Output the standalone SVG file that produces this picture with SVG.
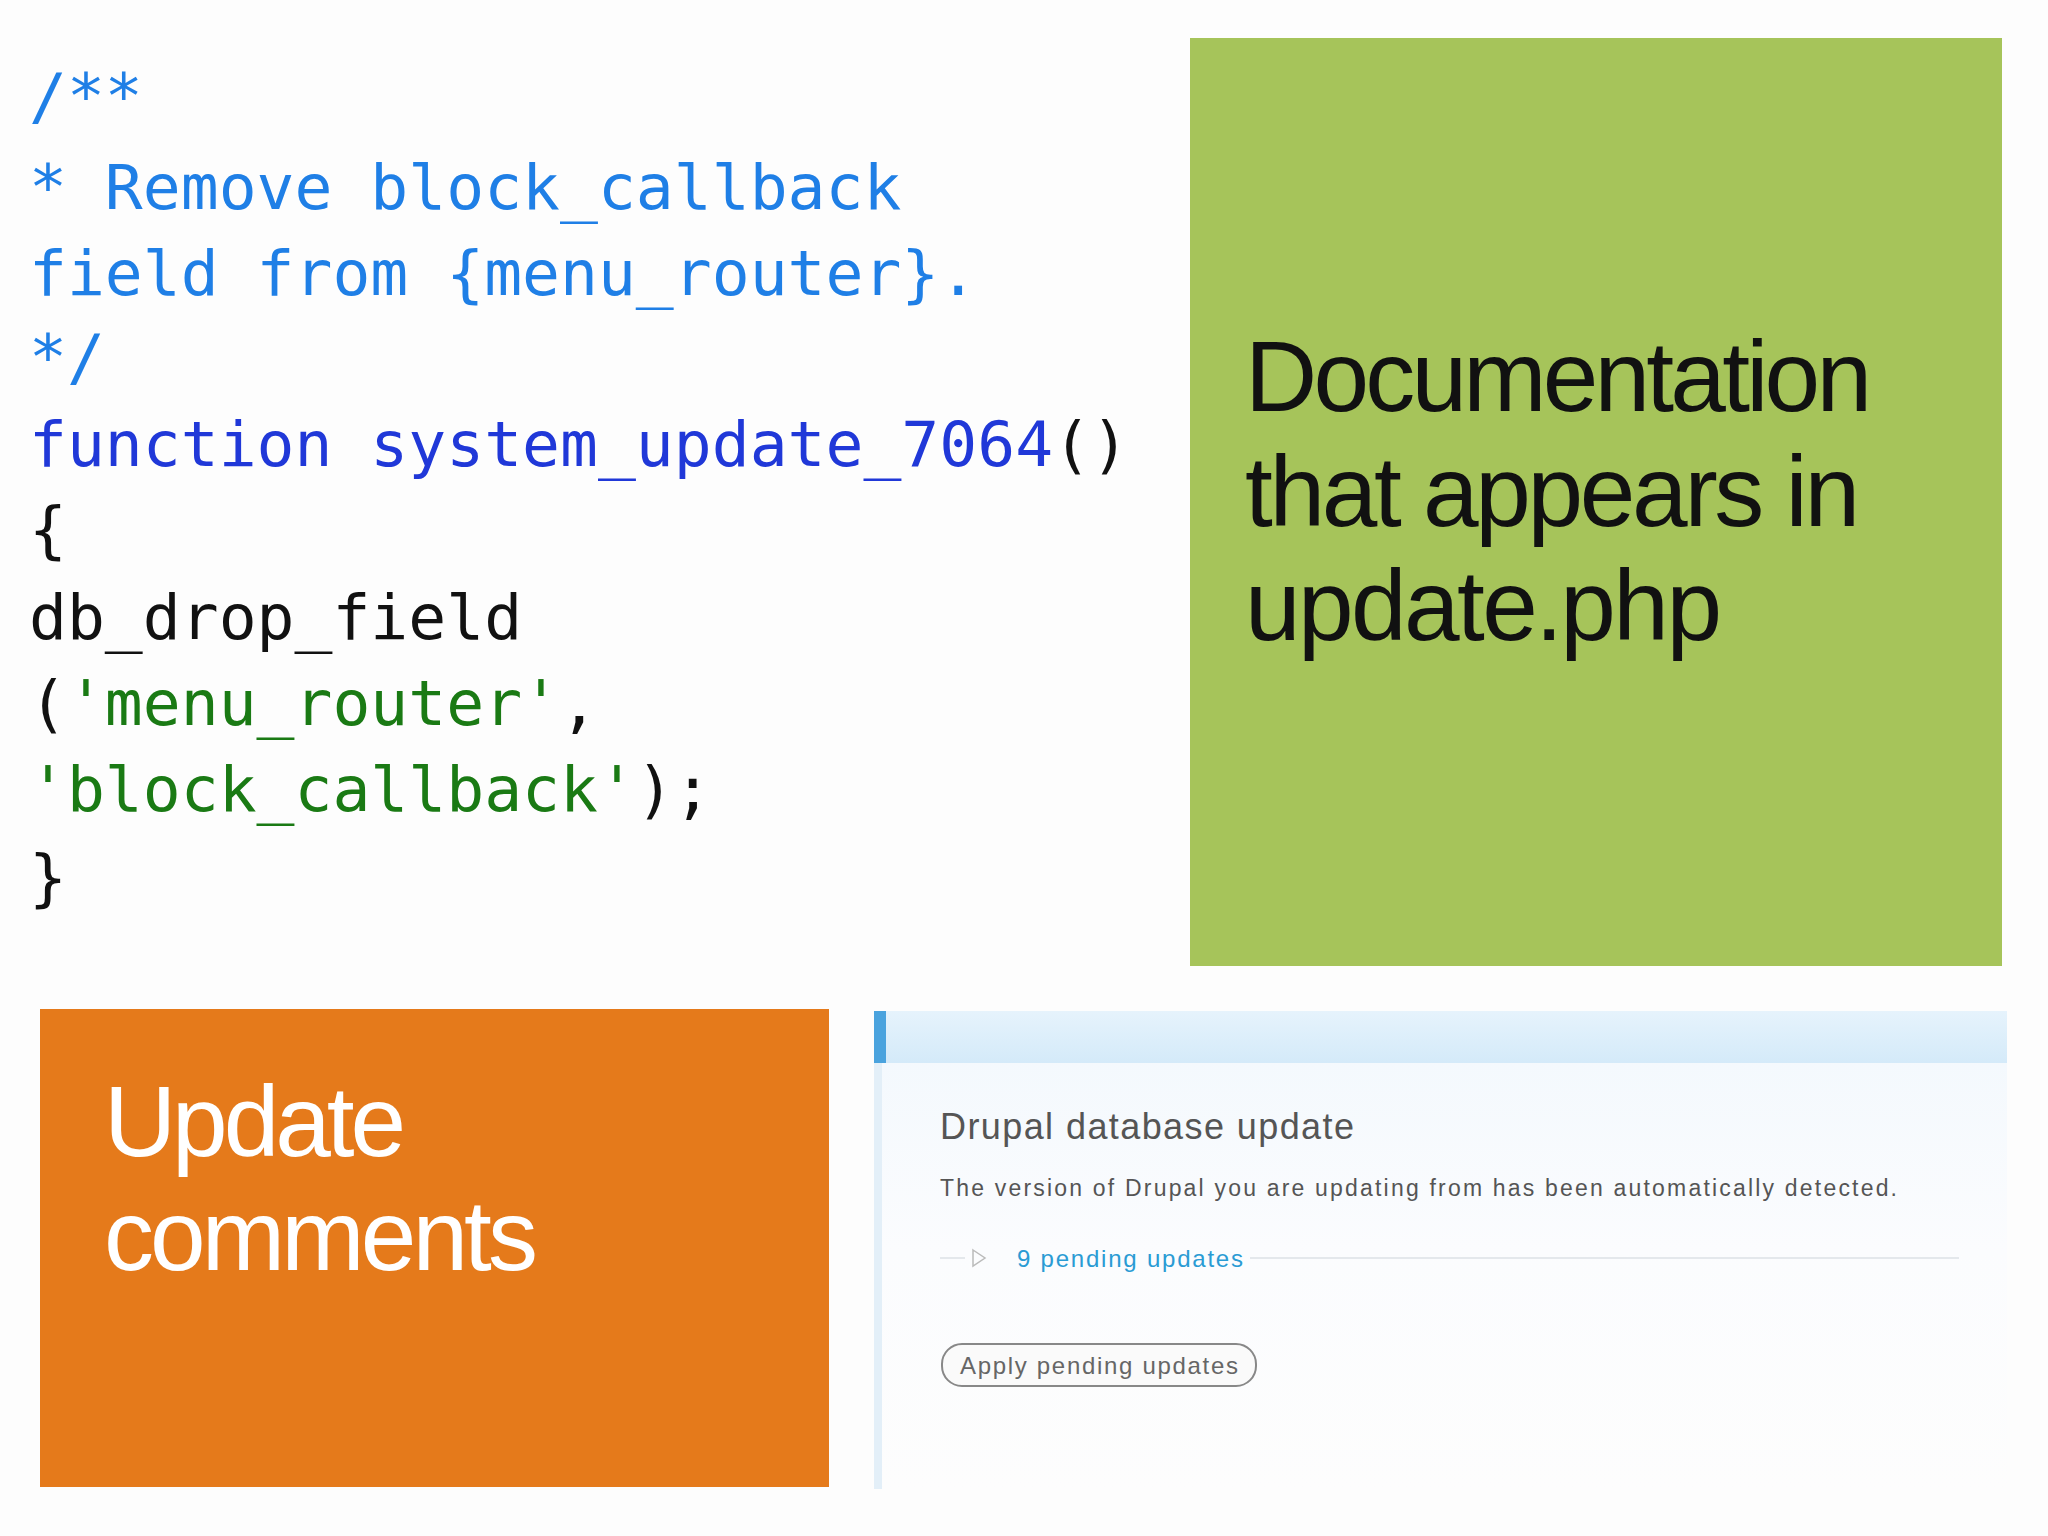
<svg xmlns="http://www.w3.org/2000/svg" width="2048" height="1536" viewBox="0 0 2048 1536">
<defs>
<style>
.code{font-family:"DejaVu Sans Mono","Liberation Mono",monospace;font-size:63px;}
.cm{fill:#1f7fe6}.kw{fill:#2038d8}.st{fill:#1a7a14}.pl{fill:#111}
.big{font-family:"Liberation Sans",Arial,sans-serif;font-size:100px;font-weight:300;}
.ui{font-family:"Liberation Sans",Arial,sans-serif;}
</style>
<linearGradient id="hdr" x1="0" y1="0" x2="0" y2="1"><stop offset="0" stop-color="#e6f3fc"/><stop offset="1" stop-color="#d4eaf9"/></linearGradient>
<linearGradient id="body" x1="0" y1="0" x2="0" y2="1"><stop offset="0" stop-color="#f2f8fd"/><stop offset="0.5" stop-color="#fbfcfe"/><stop offset="1" stop-color="#fdfdfd"/></linearGradient>
</defs>
<rect width="2048" height="1536" fill="#fdfdfd"/>
<g id="code" class="code" xml:space="preserve">
<text x="29" y="118" class="cm">/**</text>
<text x="29" y="209" class="cm"> * Remove block_callback</text>
<text x="29" y="295" class="cm">field from {menu_router}.</text>
<text x="29" y="379" class="cm"> */</text>
<text x="29" y="466"><tspan class="kw">function system_update_7064</tspan><tspan class="pl">()</tspan></text>
<text x="29" y="551" class="pl">{</text>
<text x="29" y="639" class="pl">  db_drop_field</text>
<text x="29" y="725"><tspan class="pl">(</tspan><tspan class="st">'menu_router'</tspan><tspan class="pl">,</tspan></text>
<text x="29" y="811"><tspan class="st">'block_callback'</tspan><tspan class="pl">);</tspan></text>
<text x="29" y="899" class="pl">}</text>
</g>
<g id="doc">
<rect x="1190" y="38" width="812" height="928" fill="#a6c45a"/>
<text class="big" fill="#111"><tspan x="1245" y="411" textLength="627">Documentation</tspan><tspan x="1245" y="526" textLength="615">that appears in</tspan><tspan x="1245" y="640" textLength="477">update.php</tspan></text>
</g>
<g id="comments">
<rect x="40" y="1009" width="789" height="478" fill="#e57a1b"/>
<text class="big" fill="#fff"><tspan x="104" y="1156" textLength="302">Update</tspan><tspan x="104" y="1270" textLength="434">comments</tspan></text>
</g>
<g id="drupal">
<rect x="874" y="1011" width="1133" height="478" fill="url(#body)"/>
<rect x="874" y="1011" width="1133" height="52" fill="url(#hdr)"/>
<rect x="874" y="1011" width="12" height="52" fill="#4aa3de"/>
<rect x="874" y="1063" width="8" height="426" fill="#e3eff8"/>
<text class="ui" x="940" y="1139" font-size="36" fill="#555" textLength="414">Drupal database update</text>
<text class="ui" x="940" y="1196" font-size="23" fill="#555" textLength="957">The version of Drupal you are updating from has been automatically detected.</text>
<line x1="940" y1="1258" x2="965" y2="1258" stroke="#e4e8ec" stroke-width="2"/>
<line x1="1250" y1="1258" x2="1959" y2="1258" stroke="#e4e8ec" stroke-width="2"/>
<path d="M973 1250 L985 1258 L973 1266 Z" fill="none" stroke="#bbb" stroke-width="1.5"/>
<text class="ui" x="1017" y="1267" font-size="24" fill="#2a9bd4" textLength="226">9 pending updates</text>
<rect x="942" y="1344" width="314" height="42" rx="20" fill="#fafafa" stroke="#888" stroke-width="2"/>
<text class="ui" x="960" y="1374" font-size="24" fill="#666" textLength="278">Apply pending updates</text>
</g>
</svg>
